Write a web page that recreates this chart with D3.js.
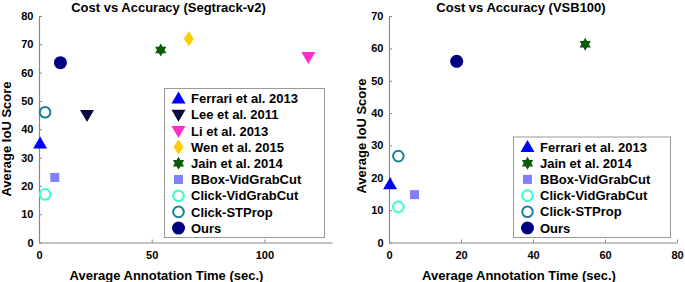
<!DOCTYPE html>
<html>
<head>
<meta charset="utf-8">
<script src="https://cdn.jsdelivr.net/npm/d3@7"></script>
<style>
  body { margin: 0; background: #fff; }
  text { font-family: "Liberation Sans", Arial, sans-serif; font-weight: bold; }
</style>
</head>
<body>
<div id="chart"></div>
<script>
// Segtrack-v2 panel
const segMethods = ["Ferrari et al. 2013", "Lee et al. 2011", "Li et al. 2013", "Wen et al. 2015",
  "Jain et al. 2014", "BBox-VidGrabCut", "Click-VidGrabCut", "Click-STProp", "Ours"];
const segTime = [0.5, 21.3, 119.5, 66.5, 54, 7, 2.7, 2.7, 9.5];
const segIoU = [35, 45, 65.5, 72, 68, 23, 17, 46, 63.5];
const segXTicks = [0, 50, 100];
const segYTicks = [0, 10, 20, 30, 40, 50, 60, 70, 80];

// VSB100 panel
const vsbMethods = ["Ferrari et al. 2013", "Jain et al. 2014", "BBox-VidGrabCut",
  "Click-VidGrabCut", "Click-STProp", "Ours"];
const vsbTime = [0.3, 54.5, 7.1, 2.6, 2.6, 18.8];
const vsbIoU = [18, 61.3, 14.8, 11, 26.7, 56];
const vsbXTicks = [0, 20, 40, 60, 80];
const vsbYTicks = [0, 10, 20, 30, 40, 50, 60, 70];

// marker style per method
const style = {
  "Ferrari et al. 2013": {shape: "up", color: "#0000ff"},
  "Lee et al. 2011":     {shape: "down", color: "#0a0a3c"},
  "Li et al. 2013":      {shape: "down", color: "#ff2ec8"},
  "Wen et al. 2015":     {shape: "diamond", color: "#ffcc00"},
  "Jain et al. 2014":    {shape: "hexagram", color: "#0a5a0a"},
  "BBox-VidGrabCut":     {shape: "square", color: "#8080ff"},
  "Click-VidGrabCut":    {shape: "ring", color: "#33ffcc"},
  "Click-STProp":        {shape: "ring", color: "#1a8090"},
  "Ours":                {shape: "dot", color: "#000080"}
};

const W = 685, H = 282;
const svg = d3.select("#chart").append("svg")
  .attr("width", W).attr("height", H);

function hexagram(r) {
  var pts = [];
  for (var i = 0; i < 12; i++) {
    var a = Math.PI / 6 * i - Math.PI / 2;
    var rr = (i % 2 === 0) ? r : r * 0.58;
    pts.push([rr * Math.cos(a), rr * Math.sin(a)]);
  }
  return "M" + pts.map(p => p.join(",")).join("L") + "Z";
}

function drawMarker(g, name, cx, cy) {
  var s = style[name];
  var m = g.append("g").attr("transform", "translate(" + cx + "," + cy + ")");
  if (s.shape === "up" || s.shape === "down") {
    m.append("path")
      .attr("d", "M0,-7L7,5L-7,5Z")
      .attr("transform", s.shape === "down" ? "rotate(180)" : null)
      .attr("fill", s.color);
  } else if (s.shape === "diamond") {
    m.append("path").attr("d", "M0,-7.5L5,0L0,7.5L-5,0Z").attr("fill", s.color);
  } else if (s.shape === "hexagram") {
    m.append("path").attr("d", hexagram(6.5)).attr("fill", s.color);
  } else if (s.shape === "square") {
    m.append("rect").attr("x", -4.5).attr("y", -4.5).attr("width", 9).attr("height", 9).attr("fill", s.color);
  } else if (s.shape === "ring") {
    m.append("circle").attr("r", 5.3).attr("fill", "none").attr("stroke", s.color).attr("stroke-width", 2);
  } else {
    m.append("circle").attr("r", 6.5).attr("fill", s.color);
  }
}

function panel(cfg) {
  var x = d3.scaleLinear().domain(cfg.xDomain).range(cfg.xRange);
  var y = d3.scaleLinear().domain(cfg.yDomain).range(cfg.yRange);
  var g = svg.append("g");

  var xAxis = g.append("g")
    .attr("transform", "translate(0," + cfg.yRange[0] + ")")
    .call(d3.axisBottom(x).tickValues(cfg.xTicks).tickSize(-3).tickSizeOuter(0).tickPadding(9));
  var yAxis = g.append("g")
    .attr("transform", "translate(" + cfg.xRange[0] + ",0)")
    .call(d3.axisLeft(y).tickValues(cfg.yTicks).tickSize(-3).tickSizeOuter(0).tickPadding(5.5));
  [xAxis, yAxis].forEach(function(a) {
    a.select(".domain").attr("stroke", "#888").attr("stroke-width", 1.2);
    a.selectAll(".tick line").attr("stroke", "#888");
    a.selectAll(".tick text").attr("fill", "#000").attr("font-size", "11px")
      .attr("font-family", "Liberation Sans, Arial, sans-serif").attr("font-weight", "bold");
  });

  g.append("text").attr("x", cfg.titleX).attr("y", 12)
    .attr("text-anchor", "middle").attr("font-size", "13px").text(cfg.title);
  g.append("text").attr("x", cfg.titleX - 2).attr("y", 280)
    .attr("text-anchor", "middle").attr("font-size", "13px").text("Average Annotation Time (sec.)");
  g.append("text")
    .attr("transform", "translate(" + cfg.yLabelX + "," + cfg.yLabelY + ") rotate(-90)")
    .attr("text-anchor", "middle").attr("font-size", "13px").text("Average IoU Score");

  // legend
  var lg = g.append("g");
  lg.append("rect")
    .attr("x", cfg.legend.x).attr("y", cfg.legend.y)
    .attr("width", cfg.legend.w).attr("height", cfg.legend.h)
    .attr("fill", "#fff").attr("stroke", "#999").attr("stroke-width", 1);
  cfg.names.forEach(function(n, i) {
    var ry = cfg.legend.y + 10 + i * 16.2;
    drawMarker(lg, n, cfg.legend.x + 14, ry);
    lg.append("text").attr("x", cfg.legend.x + 26.5).attr("y", ry + 4.6)
      .attr("font-size", "13px").text(n);
  });

  // points
  cfg.names.forEach(function(n, i) {
    drawMarker(g, n, x(cfg.time[i]), y(cfg.iou[i]));
  });
}

panel({
  names: segMethods, time: segTime, iou: segIoU,
  xDomain: [0, 130], xRange: [39, 332], yDomain: [0, 80], yRange: [242.5, 16],
  xTicks: segXTicks, yTicks: segYTicks,
  title: "Cost vs Accuracy (Segtrack-v2)", titleX: 168.5,
  yLabelX: 11, yLabelY: 139,
  legend: {x: 164.5, y: 88.5, w: 160, h: 149}
});

panel({
  names: vsbMethods, time: vsbTime, iou: vsbIoU,
  xDomain: [0, 80], xRange: [389, 677], yDomain: [0, 70], yRange: [242.5, 16],
  xTicks: vsbXTicks, yTicks: vsbYTicks,
  title: "Cost vs Accuracy (VSB100)", titleX: 521,
  yLabelX: 366, yLabelY: 136,
  legend: {x: 513.5, y: 137, w: 157, h: 100.5}
});
</script>
</body>
</html>
